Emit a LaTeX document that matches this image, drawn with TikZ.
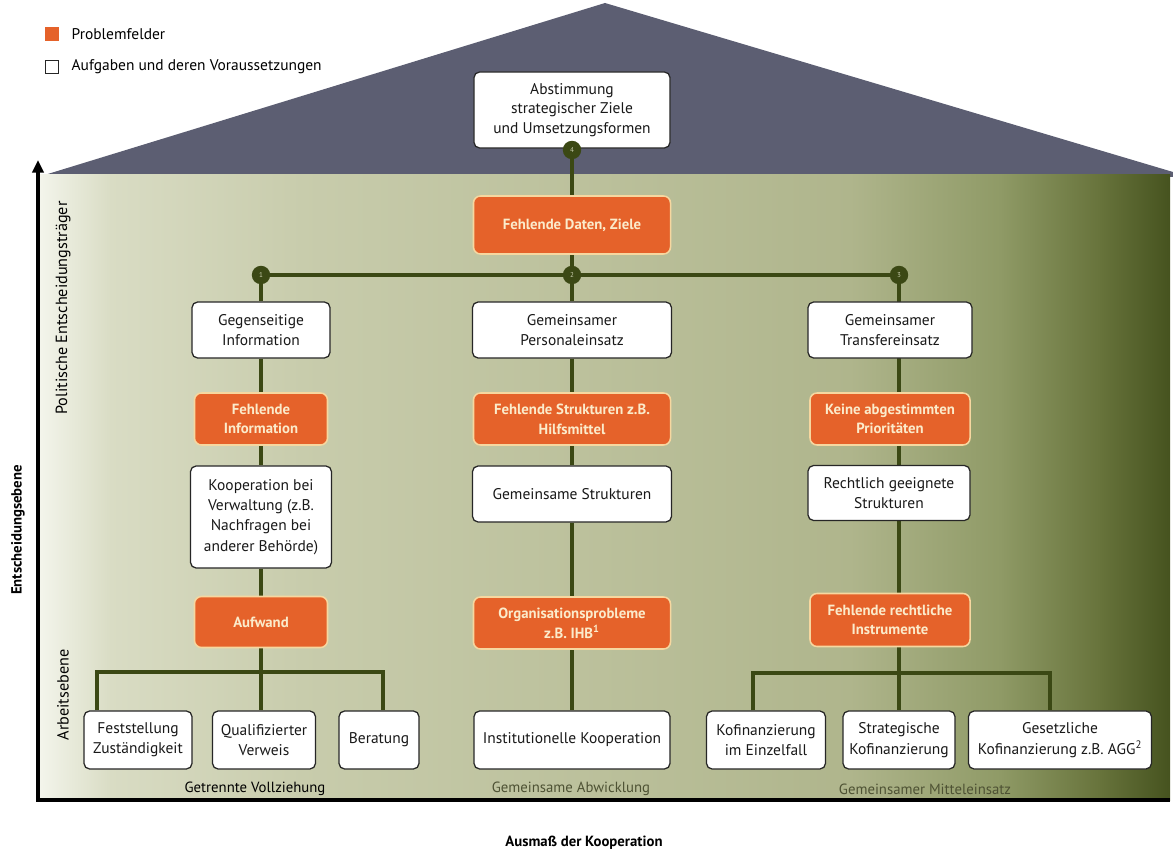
\documentclass[tikz,border=0pt]{standalone}
\usepackage{fontspec}
\setmainfont{PT Sans}
\usetikzlibrary{arrows.meta}
\definecolor{probl}{HTML}{E5622A}
\definecolor{otext}{HTML}{FBEBCB}
\definecolor{oedge}{HTML}{F6D7A0}
\definecolor{olivec}{HTML}{3B4814}
\definecolor{roofc}{HTML}{5C5E72}
\definecolor{lblgray}{HTML}{4E5234}
\definecolor{g0}{HTML}{F4F5EC}
\definecolor{g1}{HTML}{D9DCC4}
\definecolor{g2}{HTML}{C8CCAC}
\definecolor{g3}{HTML}{BBC09B}
\definecolor{g4}{HTML}{AFB58C}
\definecolor{g5}{HTML}{8F9A66}
\definecolor{g6}{HTML}{67733B}
\definecolor{g7}{HTML}{46531F}
\pgfdeclarelayer{bg}
\pgfdeclarelayer{lines}
\pgfsetlayers{bg,lines,main}
\tikzset{
  wbox/.style={draw=black!85, line width=0.9pt, fill=white, rounded corners=4pt, align=center,
    inner sep=2pt, text=black!90, font=\fontsize{11}{14.5}\selectfont},
  obox/.style={draw=oedge, line width=1.1pt, fill=probl, rounded corners=5pt, align=center,
    inner sep=2pt, text=otext, font=\bfseries\fontsize{10.5}{14}\selectfont},
  conn/.style={draw=olivec, line width=3pt},
  circ/.style={circle, fill=olivec, minimum size=0.46cm, inner sep=0pt, text=g2,
    font=\fontsize{5}{5}\selectfont},
  lbl/.style={font=\fontsize{10.5}{12}\selectfont, inner sep=1pt},
  sidelbl/.style={font=\fontsize{11.5}{13}\selectfont, inner sep=1pt},
  axlbl/.style={font=\bfseries\fontsize{10.5}{12}\selectfont, inner sep=1pt},
}
\begin{document}
\begin{tikzpicture}[x=0.025cm,y=-0.025cm]
\useasboundingbox (0,0) rectangle (1173,852);
\begin{pgfonlayer}{bg}
  \fill[roofc] (38,177) -- (605,3) -- (1173,172) -- (1173,177) -- cycle;
  \shade[left color=g0, right color=g1] (38,175) rectangle (111,800);
  \shade[left color=g1, right color=g2] (110,175) rectangle (301,800);
  \shade[left color=g2, right color=g3] (300,175) rectangle (601,800);
  \shade[left color=g3, right color=g4] (600,175) rectangle (851,800);
  \shade[left color=g4, right color=g5] (850,175) rectangle (1001,800);
  \shade[left color=g5, right color=g6] (1000,175) rectangle (1101,800);
  \shade[left color=g6, right color=g7] (1100,175) rectangle (1170,800);
\end{pgfonlayer}

% legend
\node[fill=probl, minimum size=0.37cm, inner sep=0pt] (legO) at (52,34) {};
\node[anchor=west, lbl, font=\fontsize{11}{12}\selectfont] (legOt) at (70,34) {Problemfelder};
\node[draw=black!85, line width=0.8pt, fill=white, minimum size=0.34cm, inner sep=0pt] (legW) at (52,67) {};
\node[anchor=west, lbl, font=\fontsize{11}{12}\selectfont] (legWt) at (70,67) {Aufgaben und deren Voraussetzungen};

% axes
\coordinate (O) at (38,800);
\coordinate (ytop) at (38,160);
\coordinate (xend) at (1170,800);
\draw[line width=2.2pt, -{Triangle[length=9pt,width=8pt]}] (xend) -- (O) -- (ytop);
\node[axlbl, rotate=90] (lblE) at (18,530) {Entscheidungsebene};
\node[sidelbl, rotate=90] (lblP) at (63,308) {Politische Entscheidungsträger};
\node[sidelbl, rotate=90] (lblA) at (63,695) {Arbeitsebene};
\node[axlbl] (lblX) at (584,843) {Ausmaß der Kooperation};
\node[lbl] (gv) at (255,789) {Getrennte Vollziehung};
\node[lbl, text=lblgray] (ga) at (571,789) {Gemeinsame Abwicklung};
\node[lbl, text=lblgray] (gm) at (925,789) {Gemeinsamer Mitteleinsatz};

% top
\node[wbox, minimum width=4.9cm, minimum height=1.9cm, font=\fontsize{11}{14}\selectfont] (top) at (572,110) {Abstimmung\\strategischer Ziele\\und Umsetzungsformen};
\node[circ] (c0) at (572,150) {4};
\node[obox, minimum width=4.925cm, minimum height=1.45cm] (fdz) at (572,225) {Fehlende Daten, Ziele};
\node[circ] (c1) at (261,275) {1};
\node[circ] (c2) at (572,275) {2};
\node[circ] (c3) at (899,275) {3};

% left column
\node[wbox, minimum width=3.45cm, minimum height=1.4cm] (gi) at (261,330) {Gegenseitige\\Information};
\node[obox, minimum width=3.325cm, minimum height=1.3cm] (fi) at (261,419) {Fehlende\\Information};
\node[wbox, minimum width=3.525cm, minimum height=2.55cm] (kv) at (261,517) {Kooperation bei\\Verwaltung (z.B.\\Nachfragen bei\\anderer Behörde)};
\node[obox, minimum width=3.325cm, minimum height=1.275cm] (auf) at (261,622) {Aufwand};
\node[wbox, minimum width=2.7cm, minimum height=1.45cm] (fz) at (138,740) {Feststellung\\Zuständigkeit};
\node[wbox, minimum width=2.575cm, minimum height=1.45cm] (qv) at (264,740) {Qualifizierter\\Verweis};
\node[wbox, minimum width=2.0cm, minimum height=1.45cm] (ber) at (379,740) {Beratung};

% middle column
\node[wbox, minimum width=4.975cm, minimum height=1.4cm] (gp) at (572,330) {Gemeinsamer\\Personaleinsatz};
\node[obox, minimum width=4.925cm, minimum height=1.3cm] (fs) at (572,419) {Fehlende Strukturen z.B.\\Hilfsmittel};
\node[wbox, minimum width=4.975cm, minimum height=1.4cm] (gs) at (572,494) {Gemeinsame Strukturen};
\node[obox, minimum width=4.925cm, minimum height=1.3cm] (org) at (572,623) {Organisationsprobleme\\z.B. IHB\textsuperscript{1}};
\node[wbox, minimum width=4.9cm, minimum height=1.45cm] (inst) at (572,740) {Institutionelle Kooperation};

% right column
\node[wbox, minimum width=4.1cm, minimum height=1.4cm] (gt) at (890,330) {Gemeinsamer\\Transfereinsatz};
\node[obox, minimum width=4.0cm, minimum height=1.3cm] (ka) at (890,419) {Keine abgestimmten\\Prioritäten};
\node[wbox, minimum width=4.05cm, minimum height=1.375cm] (rg) at (889,493) {Rechtlich geeignete\\Strukturen};
\node[obox, minimum width=4.0cm, minimum height=1.325cm] (fri) at (890,620) {Fehlende rechtliche\\Instrumente};
\node[wbox, minimum width=2.975cm, minimum height=1.45cm] (kof) at (766,740) {Kofinanzierung\\im Einzelfall};
\node[wbox, minimum width=2.8cm, minimum height=1.45cm] (sk) at (899,740) {Strategische\\Kofinanzierung};
\node[wbox, minimum width=4.575cm, minimum height=1.45cm] (agg) at (1060,740) {Gesetzliche\\Kofinanzierung z.B. AGG\textsuperscript{2}};

% branch coordinates
\coordinate (lb) at (261,672);
\coordinate (lbL) at (97,672);
\coordinate (lbR) at (383,672);
\coordinate (rb) at (899,673);
\coordinate (rbL) at (753,673);
\coordinate (rbR) at (1050,673);

\begin{pgfonlayer}{lines}
  \draw[conn] (top) -- (c0) -- (fdz) -- (c2);
  \draw[conn] (c1) -- (c3);
  \draw[conn] (c1) -- (gi) -- (fi) -- (kv) -- (auf) -- (lb);
  \draw[conn] (lbL |- fz.north) -- (lbL) -- (lbR) -- (lbR |- ber.north);
  \draw[conn] (lb) -- (lb |- qv.north);
  \draw[conn] (c2) -- (gp) -- (fs) -- (gs) -- (org) -- (inst);
  \draw[conn] (c3) -- (rb);
  \draw[conn] (rbL |- kof.north) -- (rbL) -- (rbR) -- (rbR |- agg.north);
  \draw[conn] (rb) -- (rb |- sk.north);
\end{pgfonlayer}
\end{tikzpicture}
\end{document}
